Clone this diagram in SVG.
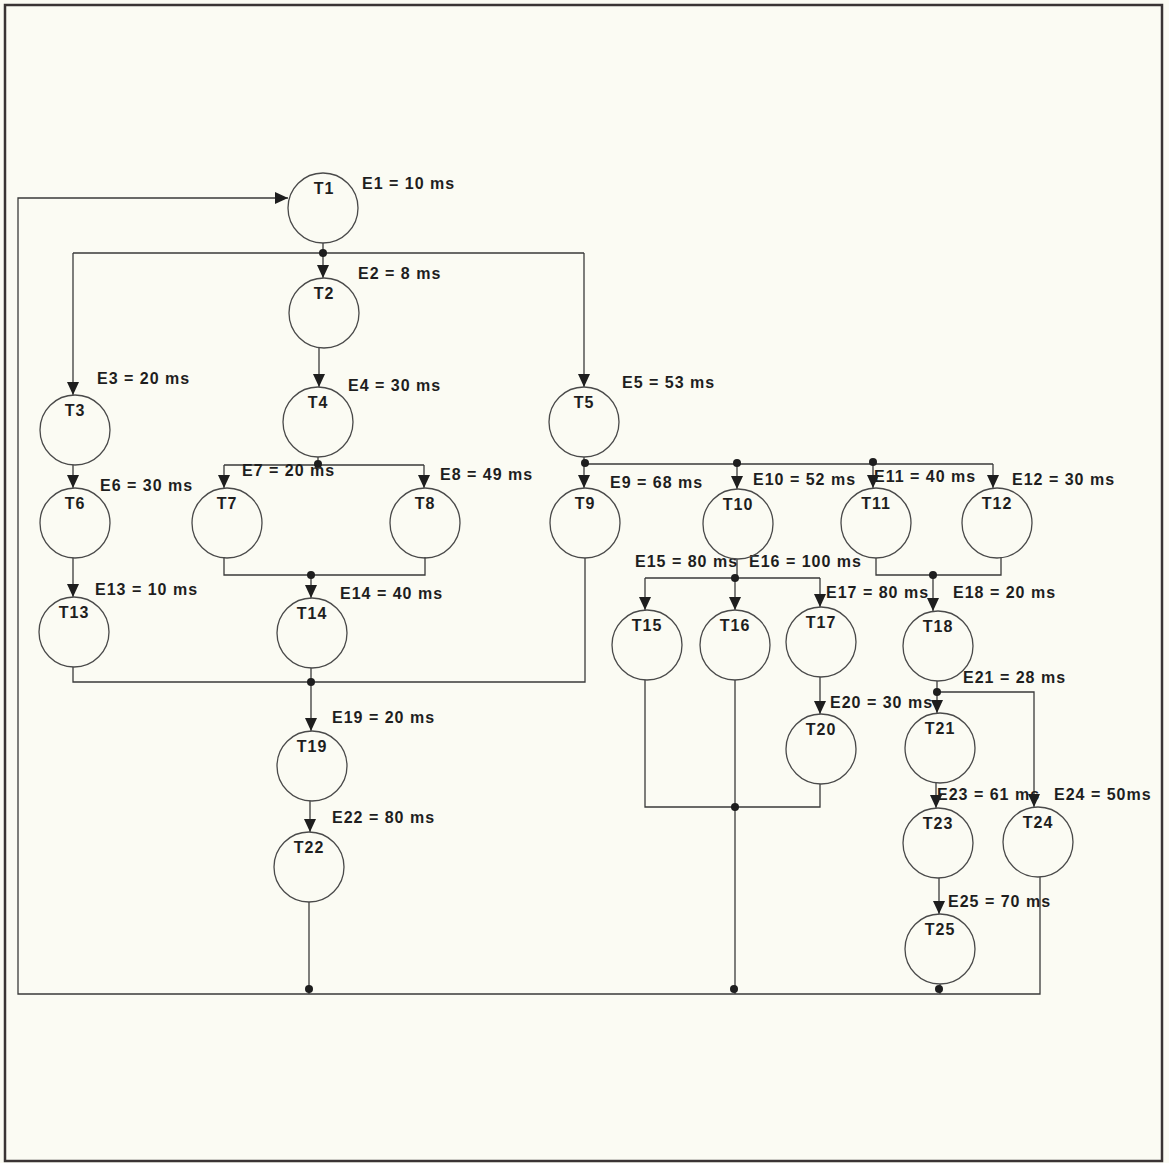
<svg xmlns="http://www.w3.org/2000/svg" width="1169" height="1163" viewBox="0 0 1169 1163">
<style>
.bg{fill:#fbfbf3}
.frame{fill:none;stroke:#3a3434;stroke-width:2.5}
.ln{fill:none;stroke:#3a3a3a;stroke-width:1.3}
.ar{fill:none;stroke:#3a3a3a;stroke-width:1.3;marker-end:url(#arr)}
.dot{fill:#1e1e1e}
.nd circle{fill:none;stroke:#4a4a4a;stroke-width:1.3}
text{font-family:"Liberation Sans",Arial,sans-serif;font-size:16px;font-weight:bold;letter-spacing:1px;fill:#1e1e1e}
.nl{text-anchor:middle}
</style>
<defs>
<marker id="arr" viewBox="0 0 13 12" refX="13" refY="6" markerWidth="13" markerHeight="12" markerUnits="userSpaceOnUse" orient="auto">
<path d="M0,0 L13,6 L0,12 z" fill="#1e1e1e"/>
</marker>
</defs>
<rect class="bg" x="0" y="0" width="1169" height="1163"/>
<rect class="frame" x="5" y="5" width="1157" height="1156"/>
<g id="connectors">
<path class="ar" d="M1040,877 V994 H18 V198 H288"/>
<path class="ln" d="M309,902 V994"/>
<path class="ln" d="M735,807 V994"/>
<path class="ln" d="M940,984 V994"/>
<path class="ln" d="M323,243 V253 M73,253 H584"/>
<path class="ar" d="M73,253 V395"/>
<path class="ar" d="M323,253 V278"/>
<path class="ar" d="M584,253 V387"/>
<path class="ar" d="M319,348 V387"/>
<path class="ln" d="M318,457 V465 M224,465 H424"/>
<path class="ar" d="M224,465 V488"/>
<path class="ar" d="M424,465 V488"/>
<path class="ar" d="M73,465 V488"/>
<path class="ln" d="M224,557 V575 H425 V557"/>
<path class="ar" d="M311,575 V598"/>
<path class="ar" d="M73,558 V597"/>
<path class="ln" d="M73,667 V682 H585 V558 M311,668 V682"/>
<path class="ar" d="M311,682 V731"/>
<path class="ar" d="M310,801 V832"/>
<path class="ln" d="M584,457 V464 M584,464 H993"/>
<path class="ar" d="M584,464 V488"/>
<path class="ar" d="M737,464 V489"/>
<path class="ar" d="M873,464 V488"/>
<path class="ar" d="M993,464 V488"/>
<path class="ln" d="M737,559 V578 M645,578 H820"/>
<path class="ar" d="M645,578 V610"/>
<path class="ar" d="M735,578 V610"/>
<path class="ar" d="M820,578 V607"/>
<path class="ln" d="M876,558 V575 H1001 V557"/>
<path class="ar" d="M933,575 V611"/>
<path class="ar" d="M820,677 V714"/>
<path class="ln" d="M645,680 V807 H820 V784 M735,680 V807"/>
<path class="ln" d="M937,681 V692"/>
<path class="ar" d="M937,692 H1034 V807"/>
<path class="ar" d="M937,692 V713"/>
<path class="ar" d="M936,783 V808"/>
<path class="ar" d="M939,878 V914"/>
<circle class="dot" cx="323" cy="253" r="4"/>
<circle class="dot" cx="318" cy="464" r="4"/>
<circle class="dot" cx="311" cy="575" r="4"/>
<circle class="dot" cx="311" cy="682" r="4"/>
<circle class="dot" cx="585" cy="463" r="4"/>
<circle class="dot" cx="737" cy="463" r="4"/>
<circle class="dot" cx="873" cy="462" r="4"/>
<circle class="dot" cx="735" cy="578" r="4"/>
<circle class="dot" cx="933" cy="575" r="4"/>
<circle class="dot" cx="735" cy="807" r="4"/>
<circle class="dot" cx="937" cy="692" r="4"/>
<circle class="dot" cx="309" cy="989" r="4"/>
<circle class="dot" cx="734" cy="989" r="4"/>
<circle class="dot" cx="939" cy="989" r="4"/>
</g>
<g id="edge-labels">
<text x="362" y="189">E1 = 10 ms</text>
<text x="358" y="279">E2 = 8 ms</text>
<text x="97" y="384">E3 = 20 ms</text>
<text x="348" y="391">E4 = 30 ms</text>
<text x="622" y="388">E5 = 53 ms</text>
<text x="100" y="491">E6 = 30 ms</text>
<text x="242" y="476">E7 = 20 ms</text>
<text x="440" y="480">E8 = 49 ms</text>
<text x="610" y="488">E9 = 68 ms</text>
<text x="753" y="485">E10 = 52 ms</text>
<text x="874" y="482">E11 = 40 ms</text>
<text x="1012" y="485">E12 = 30 ms</text>
<text x="95" y="595">E13 = 10 ms</text>
<text x="340" y="599">E14 = 40 ms</text>
<text x="635" y="567">E15 = 80 ms</text>
<text x="749" y="567">E16 = 100 ms</text>
<text x="826" y="598">E17 = 80 ms</text>
<text x="953" y="598">E18 = 20 ms</text>
<text x="332" y="723">E19 = 20 ms</text>
<text x="830" y="708">E20 = 30 ms</text>
<text x="963" y="683">E21 = 28 ms</text>
<text x="332" y="823">E22 = 80 ms</text>
<text x="937" y="800">E23 = 61 ms</text>
<text x="1054" y="800">E24 = 50ms</text>
<text x="948" y="907">E25 = 70 ms</text>
</g>
<g id="T1" class="nd"><circle cx="323" cy="208" r="35"/><text class="nl" x="324" y="194">T1</text></g>
<g id="T2" class="nd"><circle cx="324" cy="313" r="35"/><text class="nl" x="324" y="299">T2</text></g>
<g id="T3" class="nd"><circle cx="75" cy="430" r="35"/><text class="nl" x="75" y="416">T3</text></g>
<g id="T4" class="nd"><circle cx="318" cy="422" r="35"/><text class="nl" x="318" y="408">T4</text></g>
<g id="T5" class="nd"><circle cx="584" cy="422" r="35"/><text class="nl" x="584" y="408">T5</text></g>
<g id="T6" class="nd"><circle cx="75" cy="523" r="35"/><text class="nl" x="75" y="509">T6</text></g>
<g id="T7" class="nd"><circle cx="227" cy="523" r="35"/><text class="nl" x="227" y="509">T7</text></g>
<g id="T8" class="nd"><circle cx="425" cy="523" r="35"/><text class="nl" x="425" y="509">T8</text></g>
<g id="T9" class="nd"><circle cx="585" cy="523" r="35"/><text class="nl" x="585" y="509">T9</text></g>
<g id="T10" class="nd"><circle cx="738" cy="524" r="35"/><text class="nl" x="738" y="510">T10</text></g>
<g id="T11" class="nd"><circle cx="876" cy="523" r="35"/><text class="nl" x="876" y="509">T11</text></g>
<g id="T12" class="nd"><circle cx="997" cy="523" r="35"/><text class="nl" x="997" y="509">T12</text></g>
<g id="T13" class="nd"><circle cx="74" cy="632" r="35"/><text class="nl" x="74" y="618">T13</text></g>
<g id="T14" class="nd"><circle cx="312" cy="633" r="35"/><text class="nl" x="312" y="619">T14</text></g>
<g id="T15" class="nd"><circle cx="647" cy="645" r="35"/><text class="nl" x="647" y="631">T15</text></g>
<g id="T16" class="nd"><circle cx="735" cy="645" r="35"/><text class="nl" x="735" y="631">T16</text></g>
<g id="T17" class="nd"><circle cx="821" cy="642" r="35"/><text class="nl" x="821" y="628">T17</text></g>
<g id="T18" class="nd"><circle cx="938" cy="646" r="35"/><text class="nl" x="938" y="632">T18</text></g>
<g id="T19" class="nd"><circle cx="312" cy="766" r="35"/><text class="nl" x="312" y="752">T19</text></g>
<g id="T20" class="nd"><circle cx="821" cy="749" r="35"/><text class="nl" x="821" y="735">T20</text></g>
<g id="T21" class="nd"><circle cx="940" cy="748" r="35"/><text class="nl" x="940" y="734">T21</text></g>
<g id="T22" class="nd"><circle cx="309" cy="867" r="35"/><text class="nl" x="309" y="853">T22</text></g>
<g id="T23" class="nd"><circle cx="938" cy="843" r="35"/><text class="nl" x="938" y="829">T23</text></g>
<g id="T24" class="nd"><circle cx="1038" cy="842" r="35"/><text class="nl" x="1038" y="828">T24</text></g>
<g id="T25" class="nd"><circle cx="940" cy="949" r="35"/><text class="nl" x="940" y="935">T25</text></g>
</svg>
